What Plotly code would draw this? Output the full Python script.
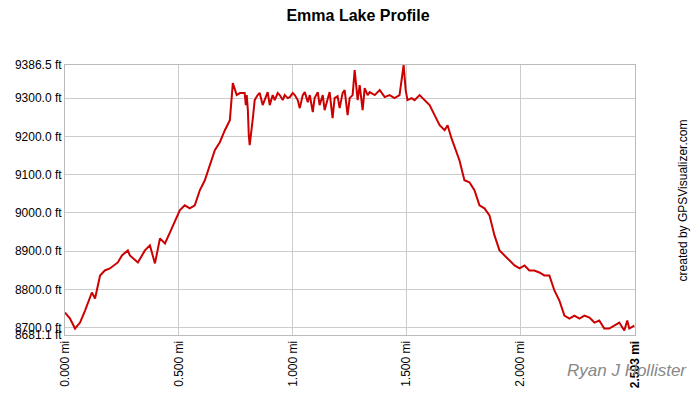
import plotly.graph_objects as go

px_x = [65,70,75,80,85,90,92,95,100,105,110,118,122,128,130,138,145,150,155,160,165,170,175,180,185,190,195,200,205,210,215,220,225,230,233,237,240,245,246,247,248,249,250,253,255,258,260,263,265,268,270,273,275,278,280,283,285,288,290,293,295,298,300,303,305,308,310,313,315,318,320,323,325,328,330,333,335,338,340,343,345,348,350,353,355,358,360,363,365,368,370,375,380,385,390,395,400,402,404,406,408,412,415,420,425,430,435,440,445,448,452,456,460,465,470,475,480,485,490,495,500,505,510,515,520,525,530,535,540,545,550,555,560,565,570,575,580,585,590,595,600,605,610,615,620,625,628,630,635]
px_y = [312,318,328,322,310,298,292,298,275,270,268,262,255,250,255,262,250,245,263,238,243,232,222,210,205,208,205,190,180,165,150,142,130,120,83,95,93,93,105,95,110,135,145,118,100,95,93,105,100,92,105,95,100,93,95,100,95,98,97,93,95,100,108,95,92,102,95,112,98,92,105,95,110,100,92,118,98,96,108,93,90,115,98,95,70,100,85,110,88,95,92,95,90,97,95,98,95,80,65,90,100,98,100,95,100,105,115,125,130,125,138,150,160,180,182,190,205,208,215,235,250,255,260,265,268,265,270,270,272,275,275,290,300,315,318,315,318,315,317,322,320,328,328,325,322,330,320,328,325]

distance_mi = [round((p - 65) / 228.0, 3) for p in px_x]
elevation_ft = [round(9300 - (p - 98) / 0.382, 1) for p in px_y]

x_ticks = [0, 0.5, 1.0, 1.5, 2.0, 2.503]
x_labels = ["0.000 mi", "0.500 mi", "1.000 mi", "1.500 mi", "2.000 mi", "<b>2.503 mi</b>"]
y_ticks = [8681.1, 8700, 8800, 8900, 9000, 9100, 9200, 9300, 9386.5]
y_labels = ["8681.1 ft", "8700.0 ft", "8800.0 ft", "8900.0 ft", "9000.0 ft", "9100.0 ft", "9200.0 ft", "9300.0 ft", "9386.5 ft"]

fig = go.Figure(go.Scatter(x=distance_mi, y=elevation_ft, mode="lines",
                           line=dict(color="#cc0000", width=2), hoverinfo="skip"))
fig.update_layout(
    width=700, height=400, paper_bgcolor="white", plot_bgcolor="white",
    margin=dict(l=57, r=73, t=57, b=73), showlegend=False,
    font=dict(family="Arial, Liberation Sans", size=12, color="black"),
    title=dict(text="<b>Emma Lake Profile</b>", x=0.5, xanchor="center", y=0.995, yanchor="top",
               font=dict(size=16, family="Arial, Liberation Sans")),
    xaxis=dict(range=[0, 2.503], tickvals=x_ticks, ticktext=x_labels, tickangle=-90,
               showgrid=True, gridcolor="#cccccc", zeroline=False, showline=True,
               linecolor="#bbbbbb", mirror=True, ticks="", automargin=False),
    yaxis=dict(range=[8681.1, 9386.5], tickvals=y_ticks, ticktext=y_labels,
               showgrid=True, gridcolor="#cccccc", zeroline=False, showline=True,
               linecolor="#bbbbbb", mirror=True, ticks="", automargin=False),
    annotations=[
        dict(text="created by GPSVisualizer.com", xref="paper", yref="paper", x=1.085, y=0.5,
             xanchor="center", yanchor="middle",
             textangle=-90, showarrow=False, font=dict(size=12)),
        dict(text="<i>Ryan J Hollister</i>", xref="paper", yref="paper", x=1.095, y=-0.13,
             xanchor="right", yanchor="middle", showarrow=False, font=dict(size=17, color="#888888")),
    ],
)
fig.write_html("out.html")
